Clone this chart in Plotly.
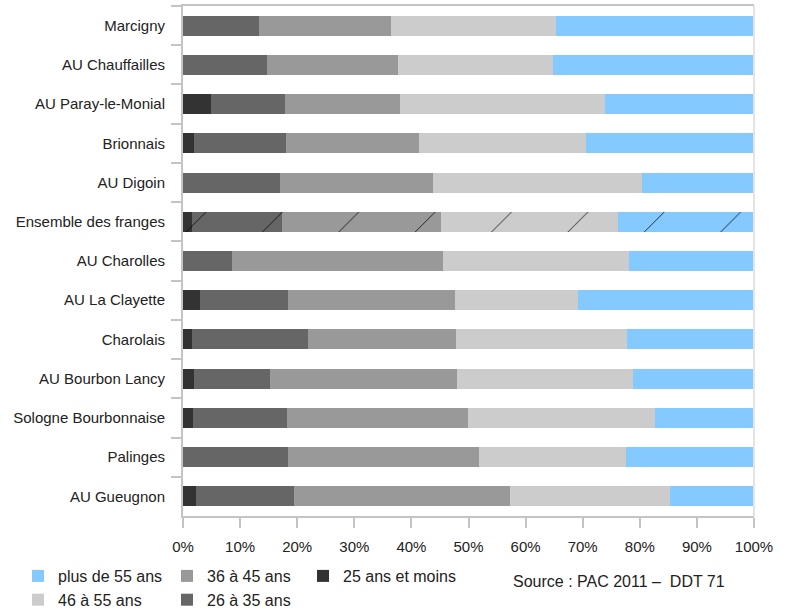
import plotly.graph_objects as go

categories = ["Marcigny", "AU Chauffailles", "AU Paray-le-Monial", "Brionnais", "AU Digoin",
              "Ensemble des franges", "AU Charolles", "AU La Clayette", "Charolais",
              "AU Bourbon Lancy", "Sologne Bourbonnaise", "Palinges", "AU Gueugnon"]

moins25 = [0.0, 0.0, 4.9, 1.9, 0.0, 1.5, 0.0, 2.9, 1.6, 1.9, 1.7, 0.0, 2.3]
a26_35 = [13.3, 14.7, 13.0, 16.1, 16.9, 15.8, 8.6, 15.5, 20.3, 13.3, 16.5, 18.4, 17.1]
a36_45 = [23.1, 22.9, 20.1, 23.3, 26.8, 27.8, 36.9, 29.2, 25.9, 32.8, 31.7, 33.4, 37.9]
a46_55 = [28.9, 27.2, 35.9, 29.2, 36.6, 31.1, 32.6, 21.5, 29.9, 30.8, 32.7, 25.8, 28.0]
plus55 = [34.7, 35.2, 26.1, 29.5, 19.7, 23.8, 21.9, 30.9, 22.3, 21.2, 17.4, 22.4, 14.7]

series = [
    ("25 ans et moins", moins25, "#333333", "legend3", 1),
    ("26 à 35 ans", a26_35, "#666666", "legend2", 2),
    ("36 à 45 ans", a36_45, "#999999", "legend2", 1),
    ("46 à 55 ans", a46_55, "#cccccc", "legend", 2),
    ("plus de 55 ans", plus55, "#84c9ff", "legend", 1),
]

hatched = "Ensemble des franges"
shapes = ["/" if c == hatched else "" for c in categories]

FONT = "Liberation Sans, Arial, sans-serif"

fig = go.Figure()
for name, vals, color, leg, rank in series:
    fig.add_trace(go.Bar(
        y=categories, x=vals, name=name, orientation="h",
        marker=dict(color=color, line=dict(width=0),
                    pattern=dict(shape=shapes, fillmode="overlay", fgcolor="#000000",
                                 fgopacity=1, size=54, solidity=0.014)),
        legend=leg, legendrank=rank,
    ))

W, H = 789, 612
L, R, T, B = 183, 35, 6, 96
pw, ph = W - L - R, H - T - B

def lx(px):
    return (px - L) / pw

def ly(py):
    return (H - B - py) / ph

legend_common = dict(orientation="v", xanchor="left", yanchor="top", traceorder="normal",
                     xref="container", yref="container",
                     font=dict(family=FONT, size=16, color="#222222"),
                     bgcolor="rgba(0,0,0,0)", tracegroupgap=0, itemclick=False)

LEG_TOP = 1 - 559 / H

fig.update_layout(
    width=W, height=H,
    margin=dict(l=L, r=R, t=T, b=B, autoexpand=False),
    barmode="stack", bargap=0.49,
    plot_bgcolor="white", paper_bgcolor="white",
    font=dict(family=FONT, size=15, color="#222222"),
    legend=dict(x=18 / W, y=LEG_TOP, **legend_common),
    legend2=dict(x=167 / W, y=LEG_TOP, **legend_common),
    legend3=dict(x=303 / W, y=LEG_TOP, **legend_common),
    xaxis=dict(range=[0, 100], dtick=10, ticksuffix="%", showgrid=False, zeroline=False,
               showline=True, linecolor="#c4c4c4", linewidth=2, mirror=True,
               ticks="outside", ticklen=10, tickcolor="#c4c4c4", tickwidth=2,
               ticklabelstandoff=6, tickfont=dict(family=FONT, size=15, color="#222222")),
    yaxis=dict(categoryorder="array", categoryarray=categories, autorange="reversed",
               showgrid=False, zeroline=False, showline=True, linecolor="#c4c4c4", linewidth=2,
               ticks="outside", tickson="boundaries", ticklen=10, tickcolor="#c4c4c4", tickwidth=2,
               ticklabelstandoff=13, tickfont=dict(family=FONT, size=15, color="#222222")),
    shapes=[dict(type="line", xref="paper", yref="paper", x0=1, x1=1, y0=0, y1=1,
                 line=dict(color="#e4e4e4", width=2))],
    annotations=[dict(text="Source : PAC 2011 –\u00a0 DDT 71", xref="paper", yref="paper",
                      x=lx(511), y=ly(581), xanchor="left", yanchor="middle", showarrow=False,
                      font=dict(family=FONT, size=16, color="#222222"))],
)

fig.write_html("out.html")
